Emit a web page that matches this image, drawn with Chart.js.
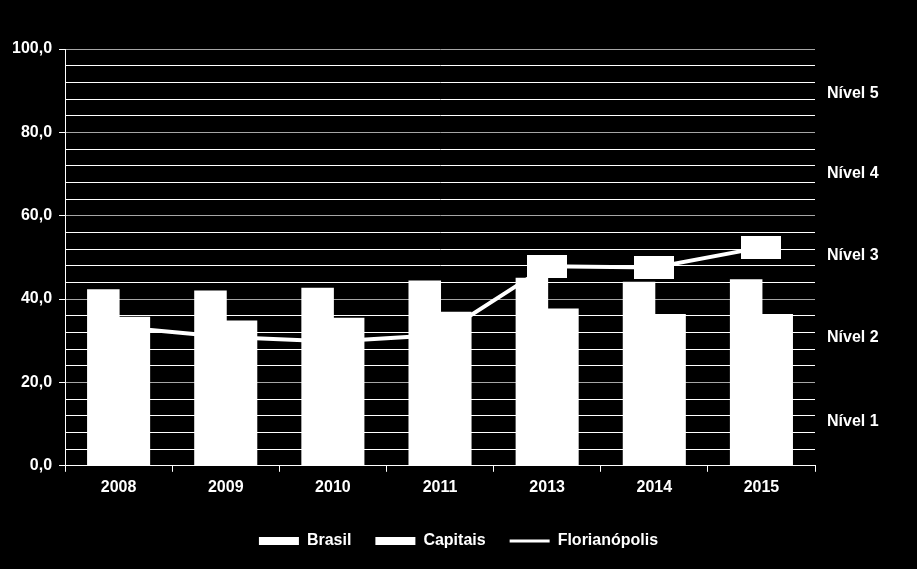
<!DOCTYPE html>
<html lang="pt">
<head>
    <meta charset="UTF-8">
    <title>Brasil x Capitais x Florianópolis</title>
    <script src="https://cdn.jsdelivr.net/npm/chart.js"></script>
    <style>
        html, body { margin: 0; padding: 0; background: #000; }
        #wrap { position: relative; width: 917px; height: 569px; }
    </style>
</head>
<body>
  <div id="wrap">
    <canvas id="levelChart" width="917" height="569"></canvas>
  </div>

    <script>
        // values
        const years = ['2008', '2009', '2010', '2011', '2013', '2014', '2015'];
        const brasil = [42.1, 41.8, 42.5, 44.2, 44.9, 43.9, 44.5];
        const capitais = [35.5, 34.6, 35.3, 36.7, 37.5, 36.2, 36.2];
        const florianopolis = [33.3, 30.9, 29.8, 31.4, 47.9, 47.6, 52.4];
        const levelNames = ['Nível 1', 'Nível 2', 'Nível 3', 'Nível 4', 'Nível 5'];
        const levelValues = [10.6, 30.8, 50.5, 70.2, 89.2];

        // white box drawn on the last three Florianópolis points
        const boxImg = document.createElement('canvas');
        boxImg.width = 40;
        boxImg.height = 23;
        const bctx = boxImg.getContext('2d');
        bctx.fillStyle = '#fff';
        bctx.fillRect(0, 0, 40, 23);

        const boldFont = { family: '"Liberation Sans", Arial, sans-serif', weight: 'bold', size: 16 };

        Chart.defaults.color = '#fff';

        const levelChart = new Chart(document.getElementById('levelChart'), {
            type: 'bar',
            data: {
                labels: years,
                datasets: [
                    {
                        label: 'Florianópolis',
                        type: 'line',
                        data: florianopolis,
                        borderColor: '#fff',
                        backgroundColor: '#fff',
                        borderWidth: 4,
                        tension: 0,
                        pointStyle: boxImg,
                        pointRadius: [0, 0, 0, 0, 5, 5, 5],
                        pointHoverRadius: [0, 0, 0, 0, 5, 5, 5],
                        order: 0
                    },
                    {
                        label: 'Brasil',
                        data: brasil,
                        backgroundColor: '#fff',
                        borderWidth: 0,
                        inflateAmount: 1,
                        categoryPercentage: 0.57,
                        barPercentage: 1.0,
                        order: 1
                    },
                    {
                        label: 'Capitais',
                        data: capitais,
                        backgroundColor: '#fff',
                        borderWidth: 0,
                        inflateAmount: 1,
                        categoryPercentage: 0.57,
                        barPercentage: 1.0,
                        order: 1
                    }
                ]
            },
            options: {
                responsive: false,
                animation: false,
                layout: { padding: { left: 5, right: 5, top: 49, bottom: 10 } },
                scales: {
                    x: {
                        offset: true,
                        grid: {
                            offset: true,
                            drawOnChartArea: false,
                            drawTicks: true,
                            tickLength: 6,
                            tickColor: '#fff'
                        },
                        border: { color: '#fff', width: 1 },
                        ticks: { color: '#fff', font: boldFont, padding: 6 },
                        afterFit: s => { s.height += 6; }
                    },
                    y: {
                        min: 0,
                        max: 100,
                        ticks: {
                            stepSize: 4,
                            autoSkip: false,
                            color: '#fff',
                            font: boldFont,
                            padding: 7,
                            callback: v => (v % 20 === 0 ? v.toFixed(1).replace('.', ',') : '')
                        },
                        grid: {
                            color: c => (c.tick && c.tick.value % 20 === 0 ? '#a6a6a6' : '#fff'),
                            tickColor: c => (c.tick && c.tick.value % 20 === 0 ? '#fff' : 'rgba(0,0,0,0)'),
                            tickLength: 6,
                            lineWidth: 1
                        },
                        border: { color: '#fff', width: 1 }
                    },
                    // "Nível" labels at the right of the plot
                    levels: {
                        position: 'right',
                        min: 0,
                        max: 100,
                        afterBuildTicks: axis => {
                            axis.ticks = levelValues.map(v => ({ value: v }));
                        },
                        afterFit: axis => { axis.width = 97; },
                        ticks: {
                            autoSkip: false,
                            color: '#fff',
                            font: boldFont,
                            padding: 12,
                            callback: (v, i) => levelNames[i]
                        },
                        grid: { drawOnChartArea: false, drawTicks: false },
                        border: { display: false }
                    }
                },
                plugins: {
                    tooltip: { enabled: false },
                    legend: {
                        position: 'bottom',
                        labels: {
                            color: '#fff',
                            font: boldFont,
                            usePointStyle: true,
                            pointStyleWidth: 40,
                            boxHeight: 8,
                            padding: 24,
                            sort: (a, b) => {
                                const want = ['Brasil', 'Capitais', 'Florianópolis'];
                                return want.indexOf(a.text) - want.indexOf(b.text);
                            },
                            generateLabels: chart => {
                                const items = Chart.defaults.plugins.legend.labels.generateLabels(chart);
                                items.forEach(it => {
                                    const isLine = it.text === 'Florianópolis';
                                    it.pointStyle = isLine ? 'line' : 'rect';
                                    it.fillStyle = '#fff';
                                    it.strokeStyle = '#fff';
                                    it.lineWidth = isLine ? 3 : 0;
                                });
                                return items;
                            }
                        }
                    }
                }
            }
        });
    </script>
</body>
</html>
